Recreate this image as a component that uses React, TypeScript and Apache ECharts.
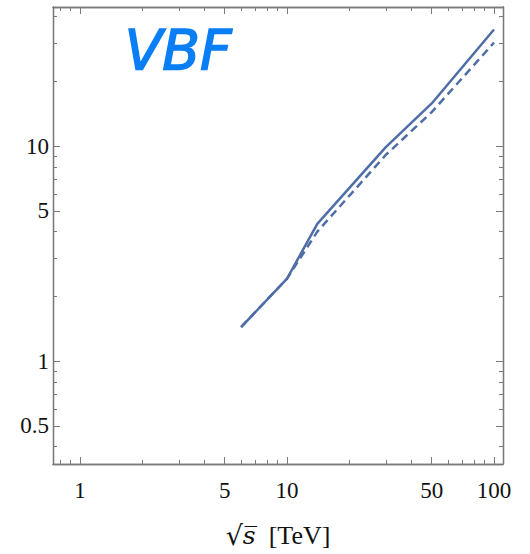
import React, { useEffect, useRef } from "react";
import * as echarts from "echarts";

const sqrtS = [6, 10, 14, 30, 50, 100];
const solidValues = [1.44, 2.42, 4.35, 9.9, 15.8, 34.9];
const dashedValues = [1.44, 2.42, 4.0, 9.1, 14.4, 30.3];

const xMajorTicks = [1, 5, 10, 50, 100];
const xMinorTicks = [0.8, 0.9, 2, 3, 4, 6, 7, 8, 9, 20, 30, 40, 60, 70, 80, 90];
const yMajorTicks = [0.5, 1, 5, 10];
const yMinorTicks = [0.4, 0.6, 0.7, 0.8, 0.9, 2, 3, 4, 6, 7, 8, 9, 20, 30, 40];

const X_MIN = 0.74;
const X_MAX = 110.5;
const Y_MIN = 0.332;
const Y_MAX = 44.4;

const L = Math.log10;
const FRAME = "#7a7a7a";
const LINE = "#4f6ea8";
const FONT = "'Liberation Serif', 'DejaVu Serif', serif";

function fmt(v: number) {
  const r = Math.pow(10, v);
  const rounded = Math.round(r * 100) / 100;
  return String(rounded);
}

export default function App() {
  const ref = useRef<HTMLDivElement>(null);
  useEffect(() => {
    if (!ref.current) return;
    const chart = echarts.init(ref.current, null, { renderer: "svg" });
    const baseX = (pos: string, ticks: number[], len: number, labels: boolean, name?: boolean) => ({
      type: "value",
      position: pos,
      min: L(X_MIN),
      max: L(X_MAX),
      splitLine: { show: false },
      axisLine: { show: true, onZero: false, lineStyle: { color: FRAME, width: 1.3 } },
      axisTick: { show: true, inside: true, length: len, customValues: ticks.map(L), lineStyle: { color: FRAME, width: 1 } },
      axisLabel: labels
        ? { show: true, customValues: ticks.map(L), formatter: fmt, color: "#111", fontFamily: FONT, fontSize: 23, margin: 15 }
        : { show: false },
      ...(name
        ? {
            name: "{r|√}{s|s\u0305}  [TeV]",
            nameLocation: "middle",
            nameGap: 58,
            nameTextStyle: {
              color: "#111",
              fontFamily: FONT,
              fontSize: 26,
              rich: {
                r: { fontFamily: "'DejaVu Serif', serif", fontSize: 27, color: "#111" },
                s: { fontFamily: "'DejaVu Serif', serif", fontStyle: "italic", fontSize: 25, color: "#111" },
              },
            },
          }
        : {}),
    });
    const baseY = (pos: string, ticks: number[], len: number, labels: boolean) => ({
      type: "value",
      position: pos,
      min: L(Y_MIN),
      max: L(Y_MAX),
      splitLine: { show: false },
      axisLine: { show: true, onZero: false, lineStyle: { color: FRAME, width: 1.3 } },
      axisTick: { show: true, inside: true, length: len, customValues: ticks.map(L), lineStyle: { color: FRAME, width: 1 } },
      axisLabel: labels
        ? { show: true, customValues: ticks.map(L), formatter: fmt, color: "#111", fontFamily: FONT, fontSize: 23, margin: 4 }
        : { show: false },
    });
    const toData = (vals: number[]) => sqrtS.map((x, i) => [L(x), L(vals[i])]);
    chart.setOption({
      animation: false,
      backgroundColor: "#fff",
      grid: { left: 53, right: 27, top: 7, bottom: 90, containLabel: false },
      xAxis: [
        baseX("bottom", xMajorTicks, 7, true, true),
        baseX("bottom", xMinorTicks, 4, false),
        baseX("top", xMajorTicks, 7, false),
        baseX("top", xMinorTicks, 4, false),
      ],
      yAxis: [
        baseY("left", yMajorTicks, 7, true),
        baseY("left", yMinorTicks, 4, false),
        baseY("right", yMajorTicks, 7, false),
        baseY("right", yMinorTicks, 4, false),
      ],
      graphic: [
        {
          type: "text",
          left: 124,
          top: 22,
          style: {
            text: "VBF",
            fill: "#0a7ef5",
            font: "italic 55px 'DejaVu Sans'",
            stroke: "#0a7ef5",
            lineWidth: 1.5,
            lineJoin: "round",
          },
        },
      ],
      series: [
        {
          type: "line",
          data: toData(solidValues),
          showSymbol: false,
          symbol: "none",
          lineStyle: { color: LINE, width: 2.5 },
          z: 3,
        },
        {
          type: "line",
          data: toData(dashedValues),
          showSymbol: false,
          symbol: "none",
          lineStyle: { color: LINE, width: 2.5, type: [8, 5] },
          z: 2,
        },
      ],
    });
    return () => chart.dispose();
  }, []);
  return <div ref={ref} style={{ width: 530, height: 554, position: "absolute", left: 0, top: 0 }} />;
}
